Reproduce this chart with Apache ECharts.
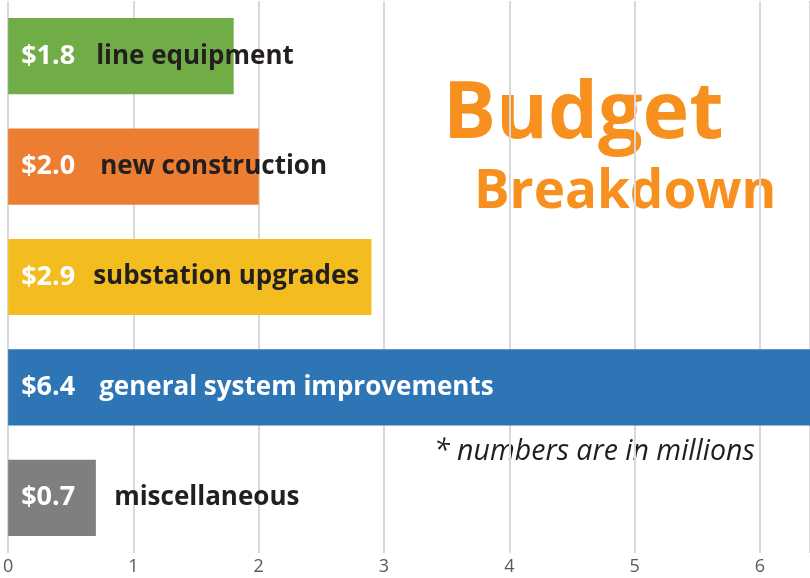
<!DOCTYPE html>
<html>
<head>
<meta charset="utf-8">
<script src="https://cdn.jsdelivr.net/npm/echarts@6/dist/echarts.min.js"></script>
<style>
  html, body { margin: 0; padding: 0; background: #fff; }
  #budget_chart { width: 810px; height: 578px; }
</style>
</head>
<body>
<div id="budget_chart"></div>
<script>
    // budget items, top to bottom
    var categories = ['line equipment', 'new construction', 'substation upgrades', 'general system improvements', 'miscellaneous'];
    var amounts = [1.8, 2.0, 2.9, 6.4, 0.7];
    var barColors = ['#70ad47', '#ed7d31', '#f4bd1f', '#2e75b6', '#7f7f7f'];
    var nameColors = ['#231f20', '#231f20', '#231f20', '#ffffff', '#231f20'];
    var xTicks = [0, 1, 2, 3, 4, 5, 6];

    var chart = echarts.init(document.getElementById('budget_chart'));

    // gap between the amount and the item name differs a bit per bar
    var valueWidths = [75, 79, 72, 78, 93];

    var barData = amounts.map(function (v, i) {
        return {
            value: v,
            itemStyle: { color: barColors[i] },
            label: {
                rich: {
                    v: { color: '#ffffff', fontSize: 27, fontWeight: 'bold', fontFamily: 'Open Sans', width: valueWidths[i] },
                    n: { color: nameColors[i], fontSize: 26, fontWeight: 'bold', fontFamily: 'Open Sans' }
                }
            }
        };
    });

    var option = {
        animation: false,
        grid: { left: 7, right: 0, top: 1, bottom: 25, containLabel: false },
        xAxis: {
            type: 'value',
            min: 0,
            max: 6.4,
            interval: 1,
            axisLine: { show: false },
            axisTick: { show: false },
            splitLine: { show: true, lineStyle: { color: '#d9d9d9', width: 2 } },
            axisLabel: {
                color: '#595959',
                fontSize: 18,
                fontFamily: 'Open Sans',
                margin: 5,
                showMaxLabel: false,
                formatter: function (v) {
                    return xTicks.indexOf(v) >= 0 ? String(v) : '';
                }
            }
        },
        yAxis: {
            type: 'category',
            inverse: true,
            data: categories,
            axisLine: { show: false },
            axisTick: { show: false },
            axisLabel: { show: false }
        },
        series: [
            {
                name: 'Budget',
                type: 'bar',
                barCategoryGap: '31%',
                data: barData,
                label: {
                    show: true,
                    position: 'insideLeft',
                    distance: 13,
                    formatter: function (p) {
                        return '{v|$' + p.value.toFixed(1) + '}{n|' + p.name + '}';
                    },
                    rich: {
                        v: { color: '#ffffff', fontSize: 27, fontWeight: 'bold', fontFamily: 'Open Sans' },
                        n: { color: '#231f20', fontSize: 26, fontWeight: 'bold', fontFamily: 'Open Sans' }
                    }
                }
            }
        ],
        graphic: [
            {
                type: 'text',
                left: 443,
                top: 76,
                style: { text: 'Budget', fill: '#f7901e', font: 'bold 79px "Open Sans"' }
            },
            {
                type: 'text',
                left: 474,
                top: 166,
                style: { text: 'Breakdown', fill: '#f7901e', font: 'bold 53px "Open Sans"' }
            },
            {
                type: 'text',
                left: 434,
                top: 437,
                style: { text: '* numbers are in millions', fill: '#231f20', font: 'italic 28.5px "Open Sans"' }
            }
        ]
    };

    chart.setOption(option);
</script>
</body>
</html>
